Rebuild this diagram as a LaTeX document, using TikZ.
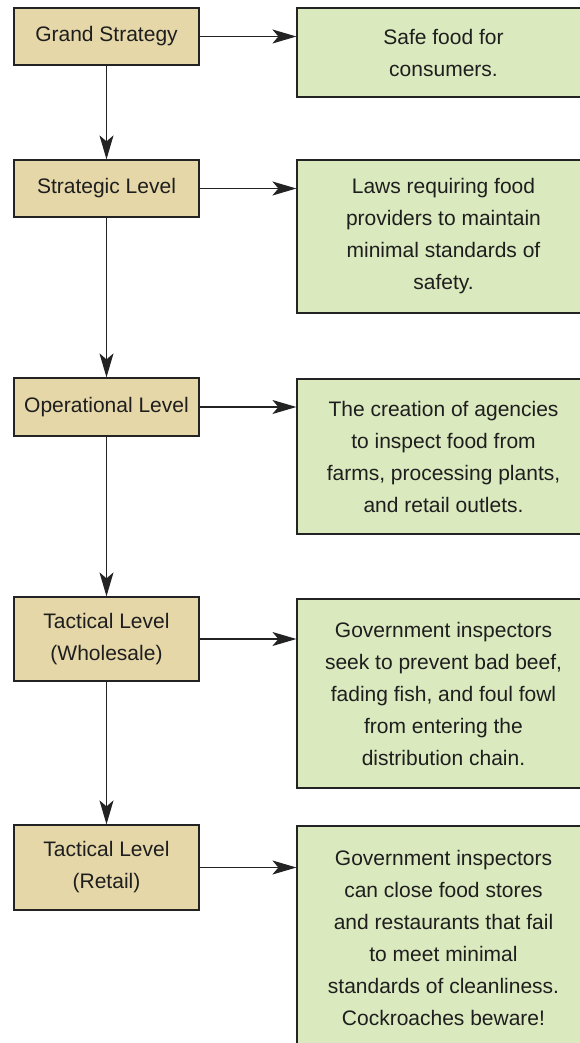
\documentclass[tikz,border=0pt]{standalone}
\usepackage{fontspec}
\setmainfont{Liberation Sans}
\usetikzlibrary{arrows.meta}
\definecolor{tanfill}{RGB}{229,215,168}
\definecolor{greenfill}{RGB}{218,233,190}
\definecolor{edge}{RGB}{35,35,35}
\definecolor{txt}{RGB}{30,30,30}
\tikzset{
  levelbox/.style={draw=edge, line width=1.2pt, fill=tanfill, minimum width=185pt, inner sep=0pt, align=center, text=txt, font=\fontsize{21}{32}\selectfont},
  descbox/.style={draw=edge, line width=1.2pt, fill=greenfill, minimum width=293pt, inner sep=0pt, align=center, text=txt, font=\fontsize{21}{32}\selectfont},
  conn/.style={draw=edge, line width=1.2pt, -{Stealth[length=24pt,width=14pt,inset=6pt]}}
}
\begin{document}
\begin{tikzpicture}[x=1pt,y=-1pt]
\useasboundingbox (0,0) rectangle (580,1043);
\clip (0,0) rectangle (580,1043);
\node[levelbox, minimum height=57pt] (gs) at (106.5,36.5) {Grand Strategy};
\node[levelbox, minimum height=57pt] (sl) at (106.5,188.5) {Strategic Level};
\node[levelbox, minimum height=58pt] (ol) at (106.5,407) {Operational Level};
\node[levelbox, minimum height=84pt] (tw) at (106.5,639) {Tactical Level\\(Wholesale)};
\node[levelbox, minimum height=85pt] (tr) at (106.5,867.5) {Tactical Level\\(Retail)};

\node[descbox, minimum height=89pt] (r1) at (443.5,52.5) {Safe food for\\consumers.};
\node[descbox, minimum height=153pt] (r2) at (443.5,236.5) {Laws requiring food\\providers to maintain\\minimal standards of\\safety.};
\node[descbox, minimum height=155pt] (r3) at (443.5,456.5) {The creation of agencies\\to inspect food from\\farms, processing plants,\\and retail outlets.};
\node[descbox, minimum height=189pt] (r4) at (443.5,693.5) {Government inspectors\\seek to prevent bad beef,\\fading fish, and foul fowl\\from entering the\\distribution chain.};
\node[descbox, minimum height=223pt] (r5) at (443.5,937.5) {Government inspectors\\can close food stores\\and restaurants that fail\\to meet minimal\\standards of cleanliness.\\Cockroaches beware!};

\draw[conn] (gs.south) -- (sl.north);
\draw[conn] (sl.south) -- (ol.north);
\draw[conn] (ol.south) -- (tw.north);
\draw[conn] (tw.south) -- (tr.north);

\draw[conn] (gs.east) -- (gs.east -| r1.west);
\draw[conn] (sl.east) -- (sl.east -| r2.west);
\draw[conn] (ol.east) -- (ol.east -| r3.west);
\draw[conn] (tw.east) -- (tw.east -| r4.west);
\draw[conn] (tr.east) -- (tr.east -| r5.west);
\end{tikzpicture}
\end{document}
